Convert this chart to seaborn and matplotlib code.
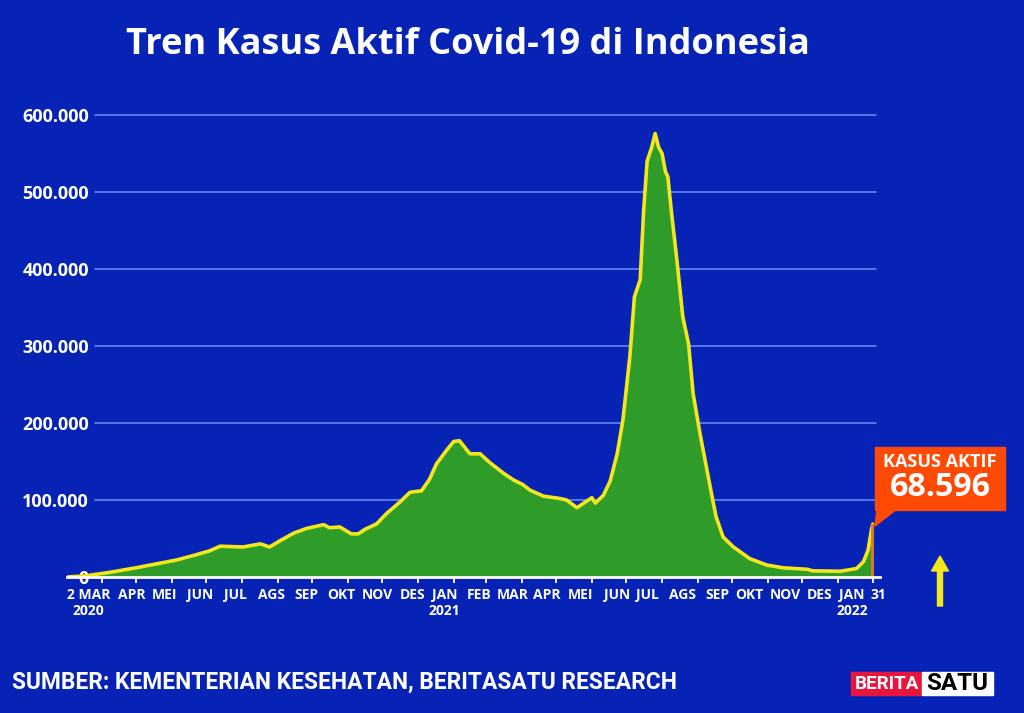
import matplotlib
matplotlib.use("Agg")
import matplotlib.pyplot as plt
from matplotlib.patches import Rectangle, Polygon
import seaborn as sns
import pandas as pd
import numpy as np

# ---------------- data ----------------
start_date = "2020-03-02"
dates = ["2020-03-02", "2020-03-18", "2020-04-08", "2020-05-01", "2020-05-22", "2020-06-05",
         "2020-06-20", "2020-07-04", "2020-07-13", "2020-08-02", "2020-08-17", "2020-08-25",
         "2020-09-03", "2020-09-15", "2020-09-26", "2020-10-11", "2020-10-16", "2020-10-25",
         "2020-11-04", "2020-11-10", "2020-11-16", "2020-11-26", "2020-12-05", "2020-12-16",
         "2020-12-25", "2021-01-04", "2021-01-11", "2021-01-17", "2021-01-26", "2021-02-01",
         "2021-02-06", "2021-02-15", "2021-02-24", "2021-03-04", "2021-03-16", "2021-03-25",
         "2021-04-02", "2021-04-08", "2021-04-20", "2021-05-04", "2021-05-10", "2021-05-19",
         "2021-05-25", "2021-06-01", "2021-06-04", "2021-06-11", "2021-06-17", "2021-06-23",
         "2021-06-28", "2021-07-04", "2021-07-08", "2021-07-13", "2021-07-16", "2021-07-19",
         "2021-07-23", "2021-07-26", "2021-07-29", "2021-08-01", "2021-08-04", "2021-08-06",
         "2021-08-09", "2021-08-14", "2021-08-19", "2021-08-24", "2021-08-28", "2021-09-03",
         "2021-09-09", "2021-09-14", "2021-09-17", "2021-09-23", "2021-10-02", "2021-10-16",
         "2021-10-31", "2021-11-14", "2021-12-05", "2021-12-10", "2022-01-03", "2022-01-17",
         "2022-01-23", "2022-01-27", "2022-01-30", "2022-01-31"]
active_cases = [0, 1500, 6000, 12000, 18000, 22000,
                28000, 34000, 40000, 39000, 43000, 39000,
                47000, 57000, 63000, 68000, 64000, 65000,
                56000, 56000, 62000, 69000, 83000, 97000,
                110000, 112000, 127000, 147000, 165000, 176000,
                177000, 160000, 160000, 149000, 135000, 126000,
                120000, 113000, 105000, 102000, 100000, 90000,
                96000, 103000, 96000, 106000, 125000, 160000,
                204000, 286000, 364000, 386000, 476000, 540000,
                558000, 576000, 558000, 550000, 526000, 520000,
                476000, 410000, 338000, 303000, 238000, 186000,
                139000, 100000, 78000, 52000, 39000, 24000,
                15500, 12000, 10000, 8000, 7500, 11000,
                20000, 35000, 62000, 68596]

y_ticks = [0, 100000, 200000, 300000, 400000, 500000, 600000]
y_tick_labels = ["0", "100.000", "200.000", "300.000", "400.000", "500.000", "600.000"]

month_tick_dates = ["2020-04-01", "2020-05-01", "2020-06-01", "2020-07-01", "2020-08-01",
                    "2020-09-01", "2020-10-01", "2020-11-01", "2020-12-01", "2021-01-01",
                    "2021-02-01", "2021-03-01", "2021-04-01", "2021-05-01", "2021-06-01",
                    "2021-07-01", "2021-08-01", "2021-09-01", "2021-10-01", "2021-11-01",
                    "2021-12-01", "2022-01-01", "2022-01-31"]
month_labels = ["2 MAR\n2020", "APR", "MEI", "JUN", "JUL", "AGS", "SEP", "OKT", "NOV", "DES",
                "JAN\n2021", "FEB", "MAR", "APR", "MEI", "JUN", "JUL", "AGS", "SEP", "OKT",
                "NOV", "DES", "JAN\n2022", "31"]
month_label_days = [19, 56, 85, 116, 146, 178, 208, 238, 270, 300, 328, 358, 387, 417, 446,
                    478, 504, 535, 565, 593, 624, 654, 682, 705]

title = "Tren Kasus Aktif Covid-19 di Indonesia"
callout_label = "KASUS AKTIF"
callout_value = "68.596"
source = "SUMBER: KEMENTERIAN KESEHATAN, BERITASATU RESEARCH"

# ---------------- style ----------------
BG = "#0623b5"
GREEN = "#2f9c29"
YELLOW = "#f3e61c"
GRID = "#6d8ff5"
ORANGE = "#ff4a06"

sns.set_theme(style="white")
plt.rcParams["font.family"] = ["Open Sans", "DejaVu Sans"]

W, H = 1024, 713
fig = plt.figure(figsize=(W / 100, H / 100), dpi=100, facecolor=BG)

def fx(x):
    return x / W

def fy(y):
    return 1 - y / H

ax_left, ax_right, ax_top, ax_bottom = 67, 880, 100, 577
ax = fig.add_axes([fx(ax_left), fy(ax_bottom), (ax_right - ax_left) / W, (ax_bottom - ax_top) / H])
ax.set_facecolor(BG)

t0 = pd.Timestamp(start_date)
df = pd.DataFrame({"day": [(pd.Timestamp(d) - t0).days for d in dates], "active": active_cases})

xmax = (ax_right - ax_left) / 1.151
ax.set_xlim(0, xmax)
ax.set_ylim(0, (ax_bottom - ax_top) * 1298.7)

# gridlines
grid_start = (95 - ax_left) / (ax_right - ax_left)
grid_end = (876 - ax_left) / (ax_right - ax_left)
for yv in y_ticks[1:]:
    ax.axhline(yv, xmin=grid_start, xmax=grid_end, color=GRID, lw=1.1, zorder=1)

ax.fill_between(df["day"], df["active"], 0, color=GREEN, lw=0, zorder=2)
sns.lineplot(data=df, x="day", y="active", ax=ax, color=YELLOW, lw=2.6, zorder=4)
# highlighted last day
ax.bar(df["day"].iloc[-1], df["active"].iloc[-1], width=2.4, color="#d97a2a", zorder=5, lw=0)

ax.set_xlabel("")
ax.set_ylabel("")
for s in ["top", "right", "left"]:
    ax.spines[s].set_visible(False)
ax.spines["bottom"].set_color("white")
ax.spines["bottom"].set_linewidth(2)
ax.spines["bottom"].set_zorder(6)

# y ticks
ax.set_yticks(y_ticks)
ax.set_yticklabels(y_tick_labels)
ax.tick_params(axis="y", length=0, pad=-15.8, labelsize=13, labelcolor="white")
for lab in ax.get_yticklabels():
    lab.set_fontweight("bold")
    lab.set_zorder(7)

# x ticks
tick_days = [(pd.Timestamp(d) - t0).days for d in month_tick_dates]
ax.set_xticks(tick_days)
ax.set_xticklabels([""] * len(tick_days))
ax.tick_params(axis="x", which="major", length=4, width=1.3, color="white", direction="out")
ax.set_xticks(month_label_days, minor=True)
ax.set_xticklabels(month_labels, minor=True)
ax.tick_params(axis="x", which="minor", length=0, pad=8, labelsize=10, labelcolor="white")
for lab in ax.get_xticklabels(minor=True):
    lab.set_fontweight("bold")
    lab.set_linespacing(1.15)
ax.xaxis.set_tick_params(which="both", bottom=True)
ax.grid(False)

renderer = fig.canvas.get_renderer()

def fit(t, target_w):
    fs = t.get_fontsize()
    bb = t.get_window_extent(renderer)
    t.set_fontsize(fs * target_w / bb.width)

# title
t = fig.text(fx(468), fy(45), title, color="white", fontsize=24, fontweight="bold",
             ha="center", va="center")
fit(t, 683)

# callout
fig.patches.append(Rectangle((fx(875), fy(510)), 130 / W, 63 / H, transform=fig.transFigure,
                             color=ORANGE, zorder=10))
fig.patches.append(Polygon([(fx(877), fy(509)), (fx(897), fy(509)), (fx(875), fy(526))],
                           closed=True, transform=fig.transFigure, color=ORANGE, zorder=10))
t = fig.text(fx(940), fy(462), callout_label, color="white", fontsize=11, fontweight="bold",
             ha="center", va="center", zorder=11)
fit(t, 113)
t = fig.text(fx(940), fy(487), callout_value, color="white", fontsize=20, fontweight="bold",
             ha="center", va="center", zorder=11)
fit(t, 101)

# yellow arrow
fig.patches.append(Polygon([(fx(940), fy(556)), (fx(948.5), fy(571)), (fx(942.5), fy(571)),
                            (fx(942.5), fy(606)), (fx(937.5), fy(606)), (fx(937.5), fy(571)),
                            (fx(931.5), fy(571))],
                           closed=True, transform=fig.transFigure, color=YELLOW, zorder=10))

# source
t = fig.text(fx(12), fy(682), source, color="white", fontsize=13, fontweight="bold",
             ha="left", va="center", family=["Roboto", "DejaVu Sans"])
fit(t, 658)

# logo
fig.patches.append(Rectangle((fx(851), fy(695)), 71 / W, 23 / H, transform=fig.transFigure,
                             color="#e8163c", zorder=10))
fig.patches.append(Rectangle((fx(922), fy(695)), 71 / W, 23 / H, transform=fig.transFigure,
                             color="white", zorder=10))
t = fig.text(fx(886.5), fy(684), "BERITA", color="white", fontsize=12, fontweight="bold",
             ha="center", va="center", zorder=11, family=["Roboto", "DejaVu Sans"])
fit(t, 64)
t = fig.text(fx(957.5), fy(684), "SATU", color="black", fontsize=12, fontweight="bold",
             ha="center", va="center", zorder=11, family=["Roboto", "DejaVu Sans"])
fit(t, 62)

fig.savefig("out.png", dpi=100, facecolor=BG)
